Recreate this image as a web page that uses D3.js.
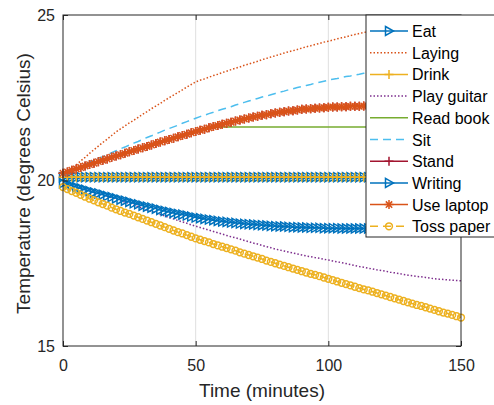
<!DOCTYPE html>
<html>
<head>
<meta charset="utf-8">
<script src="https://cdn.jsdelivr.net/npm/d3@7"></script>
<style>
  html, body { margin: 0; padding: 0; background: #fff; }
  svg { display: block; font-family: "Liberation Sans", Arial, Helvetica, sans-serif; }
</style>
</head>
<body>
<svg id="chart" width="494" height="405"></svg>
<script>
// sample times in seconds (one sample every 100 s)
const timeSeconds = [
  0, 100, 200, 300, 400, 500, 600, 700, 800, 900,
  1000, 1100, 1200, 1300, 1400, 1500, 1600, 1700, 1800, 1900,
  2000, 2100, 2200, 2300, 2400, 2500, 2600, 2700, 2800, 2900,
  3000, 3100, 3200, 3300, 3400, 3500, 3600, 3700, 3800, 3900,
  4000, 4100, 4200, 4300, 4400, 4500, 4600, 4700, 4800, 4900,
  5000, 5100, 5200, 5300, 5400, 5500, 5600, 5700, 5800, 5900,
  6000, 6100, 6200, 6300, 6400, 6500, 6600, 6700, 6800, 6900,
  7000, 7100, 7200, 7300, 7400, 7500, 7600, 7700, 7800, 7900,
  8000, 8100, 8200, 8300, 8400, 8500, 8600, 8700, 8800, 8900,
  9000
];

const seriesNames = ['Eat', 'Laying', 'Drink', 'Play guitar', 'Read book', 'Sit', 'Stand', 'Writing', 'Use laptop', 'Toss paper'];
const xTicks = [0, 50, 100, 150];
const yTicks = [15, 20, 25];

const eatTemp = [
  20.1, 20.1, 20.1, 20.1, 20.1, 20.1, 20.1, 20.1, 20.1, 20.1,
  20.1, 20.1, 20.1, 20.1, 20.1, 20.1, 20.1, 20.1, 20.1, 20.1,
  20.1, 20.1, 20.1, 20.1, 20.1, 20.1, 20.1, 20.1, 20.1, 20.1,
  20.1, 20.1, 20.1, 20.1, 20.1, 20.1, 20.1, 20.1, 20.1, 20.1,
  20.1, 20.1, 20.1, 20.1, 20.1, 20.1, 20.1, 20.1, 20.1, 20.1,
  20.1, 20.1, 20.1, 20.1, 20.1, 20.1, 20.1, 20.1, 20.1, 20.1,
  20.1, 20.1, 20.1, 20.1, 20.1, 20.1, 20.1, 20.1, 20.1, 20.1,
  20.1, 20.1, 20.1, 20.1, 20.1, 20.1, 20.1, 20.1, 20.1, 20.1,
  20.1, 20.1, 20.1, 20.1, 20.1, 20.1, 20.1, 20.1, 20.1, 20.1,
  20.1
];

const layingTemp = [
  20.12, 20.24, 20.35, 20.47, 20.59, 20.70,
  20.82, 20.93, 21.04, 21.15, 21.25, 21.36,
  21.47, 21.56, 21.65, 21.74, 21.82, 21.91,
  22.00, 22.08, 22.17, 22.25, 22.33, 22.42,
  22.50, 22.58, 22.66, 22.74, 22.82, 22.90,
  22.98, 23.03, 23.07, 23.12, 23.17, 23.21,
  23.26, 23.30, 23.35, 23.39, 23.43, 23.48,
  23.52, 23.56, 23.60, 23.65, 23.69, 23.73,
  23.77, 23.81, 23.85, 23.89, 23.92, 23.96,
  24.00, 24.04, 24.07, 24.11, 24.14, 24.18,
  24.21, 24.24, 24.28, 24.31, 24.34, 24.38,
  24.41, 24.44, 24.47, 24.50, 24.52, 24.55,
  24.58, 24.61, 24.63, 24.66, 24.68, 24.71,
  24.73, 24.75, 24.77, 24.80, 24.82, 24.84,
  24.86, 24.88, 24.90, 24.92, 24.93, 24.95,
  24.97
];

const drinkTemp = [
  20.1, 20.1, 20.1, 20.1, 20.1, 20.1, 20.1, 20.1, 20.1, 20.1,
  20.1, 20.1, 20.1, 20.1, 20.1, 20.1, 20.1, 20.1, 20.1, 20.1,
  20.1, 20.1, 20.1, 20.1, 20.1, 20.1, 20.1, 20.1, 20.1, 20.1,
  20.1, 20.1, 20.1, 20.1, 20.1, 20.1, 20.1, 20.1, 20.1, 20.1,
  20.1, 20.1, 20.1, 20.1, 20.1, 20.1, 20.1, 20.1, 20.1, 20.1,
  20.1, 20.1, 20.1, 20.1, 20.1, 20.1, 20.1, 20.1, 20.1, 20.1,
  20.1, 20.1, 20.1, 20.1, 20.1, 20.1, 20.1, 20.1, 20.1, 20.1,
  20.1, 20.1, 20.1, 20.1, 20.1, 20.1, 20.1, 20.1, 20.1, 20.1,
  20.1, 20.1, 20.1, 20.1, 20.1, 20.1, 20.1, 20.1, 20.1, 20.1,
  20.1
];

const guitarTemp = [
  19.92, 19.88, 19.84, 19.80, 19.76, 19.72,
  19.68, 19.64, 19.60, 19.56, 19.52, 19.48,
  19.44, 19.39, 19.35, 19.30, 19.25, 19.21,
  19.16, 19.11, 19.07, 19.02, 18.97, 18.93,
  18.88, 18.84, 18.79, 18.75, 18.71, 18.66,
  18.62, 18.58, 18.54, 18.50, 18.46, 18.42,
  18.38, 18.34, 18.30, 18.27, 18.23, 18.19,
  18.15, 18.11, 18.08, 18.04, 18.00, 17.97,
  17.93, 17.90, 17.87, 17.84, 17.81, 17.78,
  17.75, 17.72, 17.70, 17.67, 17.65, 17.62,
  17.60, 17.57, 17.54, 17.52, 17.49, 17.46,
  17.43, 17.40, 17.38, 17.35, 17.33, 17.30,
  17.28, 17.26, 17.23, 17.21, 17.19, 17.16,
  17.14, 17.12, 17.10, 17.09, 17.07, 17.05,
  17.03, 17.02, 17.01, 17.00, 16.99, 16.98,
  16.97
];

const readTemp = [
  20.22, 20.26, 20.31, 20.35, 20.39, 20.44,
  20.48, 20.52, 20.57, 20.61, 20.65, 20.70,
  20.74, 20.78, 20.82, 20.87, 20.91, 20.95,
  20.99, 21.03, 21.07, 21.12, 21.16, 21.20,
  21.24, 21.28, 21.32, 21.36, 21.40, 21.44,
  21.48, 21.52, 21.55, 21.58, 21.60, 21.61,
  21.62, 21.62, 21.62, 21.62, 21.62, 21.62,
  21.62, 21.62, 21.62, 21.62, 21.62, 21.62,
  21.62, 21.62, 21.62, 21.62, 21.62, 21.62,
  21.62, 21.62, 21.62, 21.62, 21.62, 21.62,
  21.62, 21.62, 21.62, 21.62, 21.62, 21.62,
  21.62, 21.62, 21.62, 21.62, 21.62, 21.62,
  21.62, 21.62, 21.62, 21.62, 21.62, 21.62,
  21.62, 21.62, 21.62, 21.62, 21.62, 21.62,
  21.62, 21.62, 21.62, 21.62, 21.62, 21.62,
  21.62
];

const sitTemp = [
  20.12, 20.19, 20.26, 20.34, 20.41, 20.48,
  20.55, 20.61, 20.67, 20.72, 20.78, 20.84,
  20.90, 20.96, 21.01, 21.07, 21.13, 21.18,
  21.24, 21.30, 21.35, 21.41, 21.46, 21.52,
  21.57, 21.62, 21.67, 21.73, 21.78, 21.83,
  21.88, 21.93, 21.97, 22.02, 22.06, 22.11,
  22.15, 22.19, 22.23, 22.28, 22.32, 22.36,
  22.40, 22.44, 22.48, 22.52, 22.55, 22.59,
  22.63, 22.67, 22.70, 22.74, 22.77, 22.81,
  22.84, 22.87, 22.90, 22.94, 22.97, 23.00,
  23.03, 23.06, 23.08, 23.11, 23.14, 23.16,
  23.19, 23.21, 23.24, 23.26, 23.28, 23.31,
  23.33, 23.35, 23.37, 23.39, 23.40, 23.42,
  23.44, 23.45, 23.47, 23.48, 23.49, 23.51,
  23.52, 23.53, 23.54, 23.55, 23.56, 23.57,
  23.58
];

const standTemp = [
  20.22, 20.26, 20.31, 20.35, 20.39, 20.44,
  20.48, 20.52, 20.57, 20.61, 20.65, 20.70,
  20.74, 20.78, 20.82, 20.87, 20.91, 20.95,
  20.99, 21.03, 21.07, 21.12, 21.16, 21.20,
  21.24, 21.28, 21.32, 21.36, 21.40, 21.44,
  21.48, 21.52, 21.55, 21.59, 21.63, 21.66,
  21.70, 21.73, 21.76, 21.80, 21.83, 21.86,
  21.89, 21.92, 21.94, 21.97, 21.99, 22.02,
  22.04, 22.06, 22.08, 22.10, 22.11, 22.13,
  22.15, 22.16, 22.17, 22.18, 22.19, 22.20,
  22.21, 22.22, 22.22, 22.23, 22.23, 22.24,
  22.24, 22.24, 22.25, 22.25, 22.25, 22.25,
  22.25, 22.25, 22.25, 22.25, 22.25, 22.25,
  22.25, 22.25, 22.25, 22.25, 22.25, 22.25,
  22.25, 22.25, 22.25, 22.25, 22.25, 22.25,
  22.25
];

const writingTemp = [
  19.92, 19.88, 19.84, 19.80, 19.76, 19.72,
  19.68, 19.64, 19.61, 19.57, 19.53, 19.50,
  19.46, 19.42, 19.39, 19.35, 19.31, 19.28,
  19.24, 19.21, 19.18, 19.15, 19.11, 19.08,
  19.05, 19.02, 18.99, 18.97, 18.94, 18.91,
  18.88, 18.86, 18.84, 18.82, 18.80, 18.78,
  18.76, 18.75, 18.73, 18.72, 18.70, 18.69,
  18.68, 18.67, 18.66, 18.65, 18.64, 18.63,
  18.62, 18.61, 18.61, 18.60, 18.59, 18.59,
  18.58, 18.58, 18.57, 18.57, 18.57, 18.56,
  18.56, 18.56, 18.56, 18.55, 18.55, 18.55,
  18.55, 18.55, 18.55, 18.55, 18.55, 18.55,
  18.55, 18.55, 18.55, 18.55, 18.55, 18.55,
  18.55, 18.55, 18.55, 18.55, 18.55, 18.55,
  18.55, 18.55, 18.55, 18.55, 18.55, 18.55,
  18.55
];

const laptopTemp = [
  20.22, 20.26, 20.31, 20.35, 20.39, 20.44,
  20.48, 20.52, 20.57, 20.61, 20.65, 20.70,
  20.74, 20.78, 20.82, 20.87, 20.91, 20.95,
  20.99, 21.03, 21.07, 21.12, 21.16, 21.20,
  21.24, 21.28, 21.32, 21.36, 21.40, 21.44,
  21.48, 21.52, 21.55, 21.59, 21.63, 21.66,
  21.70, 21.73, 21.76, 21.80, 21.83, 21.86,
  21.89, 21.92, 21.94, 21.97, 21.99, 22.02,
  22.04, 22.06, 22.08, 22.10, 22.11, 22.13,
  22.15, 22.16, 22.17, 22.18, 22.19, 22.20,
  22.21, 22.22, 22.22, 22.23, 22.23, 22.24,
  22.24, 22.24, 22.25, 22.25, 22.25, 22.25,
  22.25, 22.25, 22.25, 22.25, 22.25, 22.25,
  22.25, 22.25, 22.25, 22.25, 22.25, 22.25,
  22.25, 22.25, 22.25, 22.25, 22.25, 22.25,
  22.25
];

const tossTemp = [
  19.80, 19.74, 19.68, 19.63, 19.57, 19.51,
  19.45, 19.40, 19.34, 19.29, 19.24, 19.18,
  19.13, 19.08, 19.03, 18.99, 18.94, 18.89,
  18.84, 18.79, 18.74, 18.69, 18.64, 18.59,
  18.54, 18.49, 18.44, 18.40, 18.35, 18.30,
  18.25, 18.21, 18.17, 18.13, 18.08, 18.04,
  18.00, 17.96, 17.92, 17.88, 17.83, 17.79,
  17.75, 17.71, 17.67, 17.63, 17.58, 17.54,
  17.50, 17.46, 17.42, 17.38, 17.34, 17.30,
  17.26, 17.22, 17.18, 17.15, 17.11, 17.07,
  17.03, 16.99, 16.95, 16.91, 16.87, 16.83,
  16.79, 16.75, 16.71, 16.68, 16.64, 16.60,
  16.56, 16.52, 16.48, 16.44, 16.40, 16.36,
  16.32, 16.28, 16.24, 16.21, 16.17, 16.13,
  16.09, 16.05, 16.01, 15.98, 15.94, 15.90,
  15.86
];

const seriesValues = [eatTemp, layingTemp, drinkTemp, guitarTemp, readTemp, sitTemp, standTemp, writingTemp, laptopTemp, tossTemp];

// MATLAB-like line styles
const styles = [
    { color: '#0072BD', dash: null, marker: 'tri' },
    { color: '#D95319', dash: '1.5,2', marker: null },
    { color: '#EDB120', dash: null, marker: 'plus' },
    { color: '#7E2F8E', dash: '1.5,2', marker: null },
    { color: '#77AC30', dash: null, marker: null },
    { color: '#4DBEEE', dash: '8,5', marker: null },
    { color: '#A2142F', dash: null, marker: 'plus' },
    { color: '#0072BD', dash: null, marker: 'tri' },
    { color: '#D95319', dash: null, marker: 'star' },
    { color: '#EDB120', dash: '8,5', marker: 'circle' }
];

const markerPaths = {
    tri: 'M-3.5,-4.5L4.5,0L-3.5,4.5Z',
    plus: 'M-4.5,0H4.5M0,-4.5V4.5',
    star: 'M-4.5,0H4.5M0,-4.5V4.5M-3.2,-3.2L3.2,3.2M-3.2,3.2L3.2,-3.2'
};

const svg = d3.select('#chart');
const margin = { left: 63, right: 461, top: 15, bottom: 346 };
const axisColor = '#262626';

const x = d3.scaleLinear().domain([0, 150]).range([margin.left, margin.right]);
const y = d3.scaleLinear().domain([15, 25]).range([margin.bottom, margin.top]);

// vertical grid
svg.append('g')
    .selectAll('line')
    .data(xTicks.slice(1, -1))
    .enter()
    .append('line')
    .attr('x1', d => x(d)).attr('x2', d => x(d))
    .attr('y1', margin.top).attr('y2', margin.bottom)
    .attr('stroke', '#dfdfdf')
    .attr('stroke-width', 1);

function drawMarker(g, type, color) {
    if (type === 'circle') {
        g.append('circle').attr('r', 3.4)
            .attr('fill', 'none').attr('stroke', color).attr('stroke-width', 1.5);
    } else {
        g.append('path').attr('d', markerPaths[type])
            .attr('fill', 'none').attr('stroke', color).attr('stroke-width', 1.5);
    }
}

const line = d3.line()
    .x((d, i) => x(timeSeconds[i] / 60))
    .y(d => y(d));

const plot = svg.append('g');
seriesValues.forEach((vals, s) => {
    const st = styles[s];
    const g = plot.append('g').attr('class', 'series');
    g.append('path')
        .attr('d', line(vals))
        .attr('fill', 'none')
        .attr('stroke', st.color)
        .attr('stroke-width', 1.5)
        .attr('stroke-dasharray', st.dash);
    if (st.marker) {
        vals.forEach((v, i) => {
            const m = g.append('g')
                .attr('transform', `translate(${x(timeSeconds[i] / 60)},${y(v)})`);
            drawMarker(m, st.marker, st.color);
        });
    }
});

// axes
const xAxis = svg.append('g')
    .attr('transform', `translate(0,${margin.bottom})`)
    .call(d3.axisBottom(x).tickValues(xTicks).tickSize(-5).tickSizeOuter(0).tickPadding(14));
const yAxis = svg.append('g')
    .attr('transform', `translate(${margin.left},0)`)
    .call(d3.axisLeft(y).tickValues(yTicks).tickSize(-5).tickSizeOuter(0).tickPadding(8));
const xTop = svg.append('g')
    .attr('transform', `translate(0,${margin.top})`)
    .call(d3.axisTop(x).tickValues(xTicks).tickSize(-5).tickSizeOuter(0).tickFormat(''));
const yRight = svg.append('g')
    .attr('transform', `translate(${margin.right},0)`)
    .call(d3.axisRight(y).tickValues(yTicks).tickSize(-5).tickSizeOuter(0).tickFormat(''));

[xAxis, yAxis, xTop, yRight].forEach(a => {
    a.select('.domain').remove();
    a.selectAll('line').attr('stroke', axisColor);
    a.selectAll('text')
        .attr('fill', axisColor)
        .style('font-size', '16px')
        .style('font-family', '"Liberation Sans", Arial, sans-serif');
});

svg.append('rect')
    .attr('x', margin.left).attr('y', margin.top)
    .attr('width', margin.right - margin.left)
    .attr('height', margin.bottom - margin.top)
    .attr('fill', 'none')
    .attr('stroke', axisColor)
    .attr('stroke-width', 1);

// axis labels
svg.append('text')
    .attr('x', (margin.left + margin.right) / 2)
    .attr('y', 397)
    .attr('text-anchor', 'middle')
    .attr('fill', axisColor)
    .style('font-size', '19px')
    .text('Time (minutes)');

svg.append('text')
    .attr('transform', `translate(30,${(margin.top + margin.bottom) / 2 + 3}) rotate(-90)`)
    .attr('text-anchor', 'middle')
    .attr('fill', axisColor)
    .style('font-size', '19px')
    .text('Temperature (degrees Celsius)');

// legend
const legend = svg.append('g');
legend.append('rect')
    .attr('x', 366).attr('y', 15)
    .attr('width', 200).attr('height', 222)
    .attr('fill', '#fff')
    .attr('stroke', axisColor)
    .attr('stroke-width', 1);

seriesNames.forEach((name, i) => {
    const st = styles[i];
    const cy = 31 + i * 21.7;
    const item = legend.append('g');
    item.append('line')
        .attr('x1', 370).attr('x2', 408)
        .attr('y1', cy).attr('y2', cy)
        .attr('stroke', st.color)
        .attr('stroke-width', 1.5)
        .attr('stroke-dasharray', st.dash);
    if (st.marker) {
        const m = item.append('g').attr('transform', `translate(389,${cy})`);
        drawMarker(m, st.marker, st.color);
    }
    item.append('text')
        .attr('x', 412)
        .attr('y', cy + 6)
        .attr('fill', '#000')
        .style('font-size', '16px')
        .text(name);
});
</script>
</body>
</html>
